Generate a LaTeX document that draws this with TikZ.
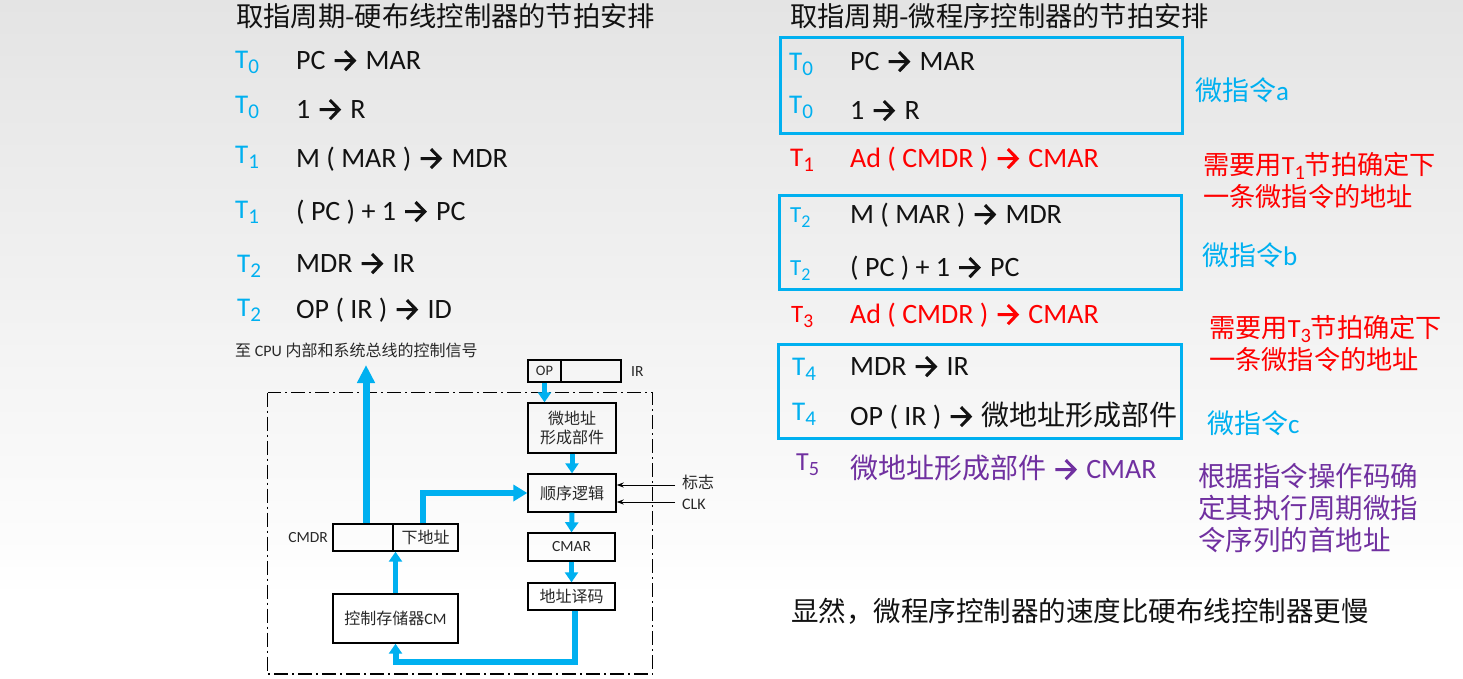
\documentclass[tikz,border=0pt]{standalone}
\usepackage{graphicx}
\usepackage{fontspec}
\setmainfont{Carlito}
\newfontfamily\cjk{Noto Sans CJK SC}
\usetikzlibrary{arrows.meta}
\definecolor{tcyan}{RGB}{0,176,240}
\definecolor{tred}{RGB}{255,0,0}
\definecolor{tpurple}{RGB}{112,48,160}
\definecolor{bgtop}{RGB}{228,228,228}
\definecolor{ink}{RGB}{18,18,18}
\definecolor{dink}{RGB}{40,40,40}
\newcommand\fsz[1]{\fontsize{#1}{#1}\selectfont}
\newcommand\TT[1]{T\raisebox{-0.22em}{\scalebox{0.78}{#1}}}
\newcommand\ra{\tikz[baseline=-0.3em]{\useasboundingbox (0,-0.4em) rectangle (0.98em,0.4em);\draw[line width=0.11em] (0.1em,0) -- (0.8em,0) (0.47em,0.34em) -- (0.8em,0) -- (0.47em,-0.34em);}}
\tikzset{
  title/.style={anchor=base west, inner sep=0pt, font=\fsz{27.3}\cjk, text=ink},
  row/.style={anchor=base west, inner sep=0pt, font=\fsz{28}, text=ink},
  tl/.style={anchor=base west, inner sep=0pt, font=\fsz{27}, text=tcyan},
  note/.style={anchor=base west, inner sep=0pt, font=\fsz{26.2}, text height=20pt, text depth=4pt},
  mbox/.style={draw=tcyan, line width=3pt, inner sep=0pt},
  sbox/.style={draw=black, line width=1.4pt, inner sep=0pt, text=dink, font=\fontsize{16}{19}\selectfont},
  lbl/.style={inner sep=0pt, text=dink, font=\fsz{15.5}},
  bigarr/.style={draw=tcyan, line width=7pt, -{Triangle[width=17pt,length=18pt]}},
  midarr/.style={draw=tcyan, line width=6pt, -{Triangle[width=16pt,length=14pt]}},
  smarr/.style={draw=tcyan, line width=5pt, -{Triangle[width=13pt,length=10pt]}},
  thinarr/.style={draw=black, line width=1pt, -{Stealth[length=7pt,width=5pt]}},
  dashdot/.style={draw=black, line width=1.3pt, dash pattern=on 14pt off 4pt on 2pt off 4pt}
}
\begin{document}
\begin{tikzpicture}[x=1pt,y=-1pt]
\useasboundingbox (0,0) rectangle (1463,678);
\shade[top color=bgtop, bottom color=white] (0,0) rectangle (1463,600);
\fill[white] (0,600) rectangle (1463,678);

% titles
\node[title] (tL) at (236,26) {取指周期-硬布线控制器的节拍安排};
\node[title] (tR) at (790,26) {取指周期-微程序控制器的节拍安排};

% left column
\node[tl] (lT1) at (235,68) {\TT{0}};
\node[tl] (lT2) at (235,113) {\TT{0}};
\node[tl] (lT3) at (235,163) {\TT{1}};
\node[tl] (lT4) at (235,218) {\TT{1}};
\node[tl] (lT5) at (237,272) {\TT{2}};
\node[tl] (lT6) at (237,316) {\TT{2}};
\node[row] (lR1) at (296,69) {PC \ra{} MAR};
\node[row] (lR2) at (296,118) {1 \ra{} R};
\node[row] (lR3) at (296,167) {M ( MAR ) \ra{} MDR};
\node[row] (lR4) at (296,220) {( PC ) + 1 \ra{} PC};
\node[row] (lR5) at (296,272) {MDR \ra{} IR};
\node[row] (lR6) at (296,318) {OP ( IR ) \ra{} ID};

% right column boxes
\node[mbox, minimum width=402, minimum height=96] (boxA) at (981,85) {};
\node[mbox, minimum width=402, minimum height=94] (boxB) at (980,242) {};
\node[mbox, minimum width=403, minimum height=94] (boxC) at (979.5,391) {};

% right column rows
\node[tl] (rT1) at (789,70) {\TT{0}};
\node[tl] (rT2) at (789,113) {\TT{0}};
\node[tl, text=tred] (rT3) at (790,166) {\TT{1}};
\node[tl, font=\fsz{23}] (rT4) at (790,222) {\TT{2}};
\node[tl, font=\fsz{23}] (rT5) at (790,275) {\TT{2}};
\node[tl, text=tred, font=\fsz{25}] (rT6) at (791,322) {\TT{3}};
\node[tl] (rT7) at (792,375) {\TT{4}};
\node[tl] (rT8) at (792,420) {\TT{4}};
\node[tl, text=tpurple, font=\fsz{26}] (rT9) at (796,470) {\TT{5}};
\node[row] (rR1) at (850,70) {PC \ra{} MAR};
\node[row] (rR2) at (850,119) {1 \ra{} R};
\node[row, text=tred] (rR3) at (850,167) {Ad ( CMDR ) \ra{} CMAR};
\node[row] (rR4) at (850,223) {M ( MAR ) \ra{} MDR};
\node[row] (rR5) at (850,276) {( PC ) + 1 \ra{} PC};
\node[row, text=tred] (rR6) at (850,323) {Ad ( CMDR ) \ra{} CMAR};
\node[row] (rR7) at (850,375) {MDR \ra{} IR};
\node[row] (rR8) at (850,425) {OP ( IR ) \ra{} {\cjk 微地址形成部件}};
\node[row, text=tpurple] (rR9) at (850,478) {{\cjk 微地址形成部件} \ra{} CMAR};

% notes
\node[note, text=tcyan, font=\fsz{27}] (nA) at (1195,100) {{\cjk 微指令}a};
\node[note, text=tred] (n1a) at (1203,174) {{\cjk 需要用}\TT{1}{\cjk 节拍确定下}};
\node[note, text=tred] (n1b) at (1203,206) {{\cjk 一条微指令的地址}};
\node[note, text=tcyan, font=\fsz{27}] (nB) at (1202,265) {{\cjk 微指令}b};
\node[note, text=tred] (n2a) at (1209,337) {{\cjk 需要用}\TT{3}{\cjk 节拍确定下}};
\node[note, text=tred] (n2b) at (1209,369) {{\cjk 一条微指令的地址}};
\node[note, text=tcyan, font=\fsz{27}] (nC) at (1207,433) {{\cjk 微指令}c};
\node[note, text=tpurple, font=\fsz{27.5}\cjk] (p1) at (1198,486) {根据指令操作码确};
\node[note, text=tpurple, font=\fsz{27.5}\cjk] (p2) at (1198,518) {定其执行周期微指};
\node[note, text=tpurple, font=\fsz{27.5}\cjk] (p3) at (1198,550) {令序列的首地址};
\node[note, text=ink, font=\fsz{27.5}\cjk] (concl) at (791,621) {显然，微程序控制器的速度比硬布线控制器更慢};

% ---- diagram ----
\draw[dashdot] (267.7,392.5) rectangle (652.7,674);
\node[lbl, anchor=base west, font=\fsz{16}] (cpu) at (235,356) {{\cjk 至} CPU {\cjk 内部和系统总线的控制信号}};

\node[sbox, minimum width=33, minimum height=22, font=\fsz{14.5}] (irop) at (544.5,371) {OP};
\node[sbox, minimum width=60, minimum height=22] (irr) at (591,371) {};
\node[lbl, anchor=west] (irl) at (631,372) {IR};
\node[sbox, minimum width=88, minimum height=50, align=center] (mic) at (572,428) {{\cjk 微地址}\\{\cjk 形成部件}};
\node[sbox, minimum width=88, minimum height=38] (seq) at (572,493) {\cjk 顺序逻辑};
\node[sbox, minimum width=87, minimum height=28, font=\fsz{15.5}] (cmar) at (571.5,547) {CMAR};
\node[sbox, minimum width=87, minimum height=27] (dec) at (571.5,596.5) {\cjk 地址译码};
\node[sbox, minimum width=60, minimum height=27] (cmdrL) at (363,537.5) {};
\node[sbox, minimum width=65, minimum height=27] (cmdrR) at (425.5,537.5) {\cjk 下地址};
\node[sbox, minimum width=125, minimum height=49] (cm) at (395.5,618.5) {{\cjk 控制存储器}CM};
\node[lbl, anchor=east] (cmdrl) at (328,538) {CMDR};
\node[lbl, anchor=west, font=\fsz{16}\cjk] (flag) at (682,482) {标志};
\node[lbl, anchor=west, font=\fsz{16}] (clk) at (682,504) {CLK};

\coordinate (fin) at (675,485);
\coordinate (cin) at (675,502);
\draw[thinarr] (fin) -- (fin -| seq.east);
\draw[thinarr] (cin) -- (cin -| seq.east);

\coordinate (cpuTip) at (366,365);
\draw[bigarr] (cpuTip |- cmdrL.north) -- (cpuTip);
\draw[midarr] ([xshift=-2.5pt]cmdrR.north) |- (seq.west);
\draw[smarr] (irop.south) -- (irop.south |- mic.north);
\draw[smarr] (mic.south) -- (seq.north);
\draw[smarr] (seq.south) -- (cmar.north);
\draw[smarr] (cmar.south) -- (dec.north);
\draw[smarr] (cm.north) -- (cm.north |- cmdrR.south);
\coordinate (bend) at (395.5,662);
\draw[smarr, line width=6pt] ([xshift=3.5pt]dec.south) |- (bend) -- (cm.south);
\end{tikzpicture}
\end{document}
